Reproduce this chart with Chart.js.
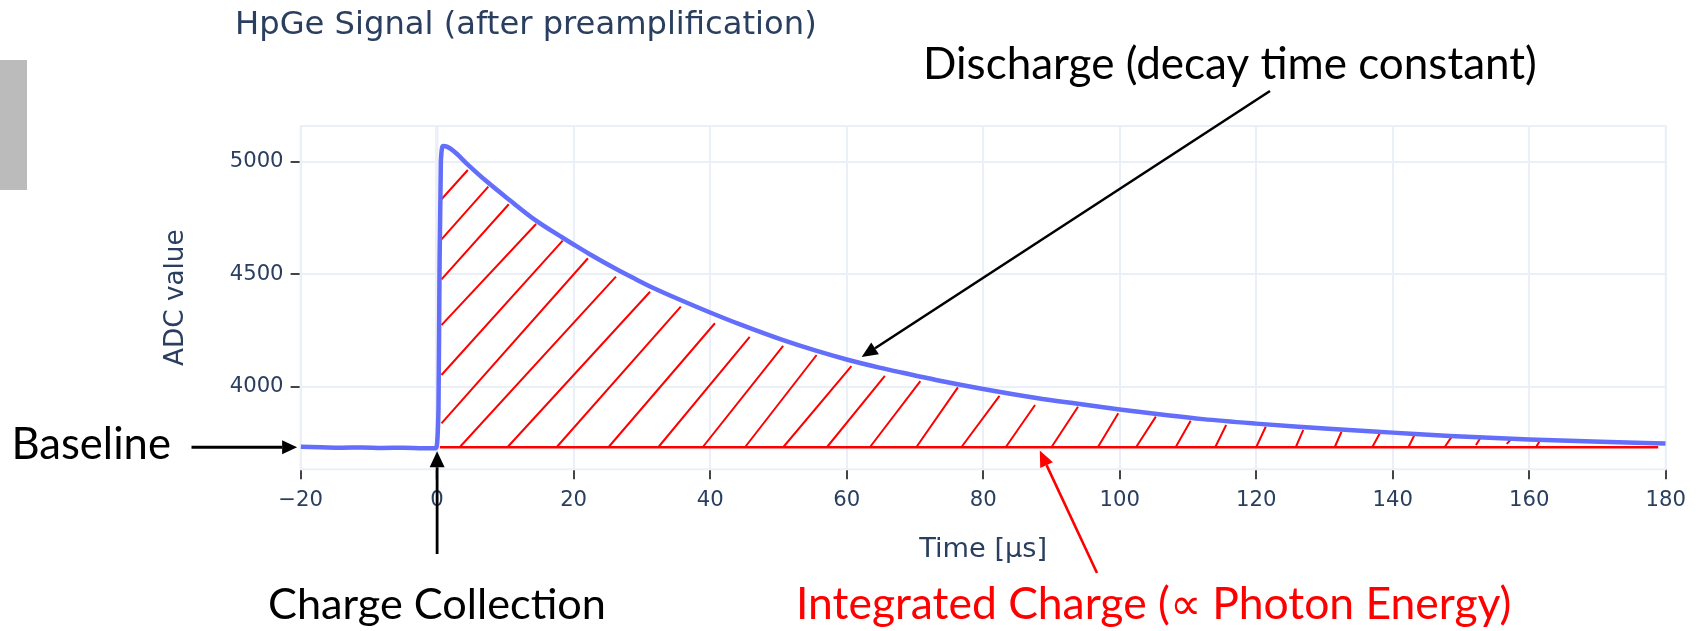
<!DOCTYPE html>
<html>
<head>
<meta charset="utf-8">
<script src="https://cdn.jsdelivr.net/npm/chart.js@4.4.1/dist/chart.umd.min.js"></script>
<style>
  html, body { margin: 0; padding: 0; background: #ffffff; }
  #wrap { width: 1704px; height: 631px; position: relative; }
</style>
</head>
<body>
<div id="wrap"><canvas id="c" width="1704" height="631"></canvas></div>
<script>
// ---------------- data ----------------
const timeUs = [-20, -17, -14, -11, -8, -5, -2, -0.2, 0.2, 0.35, 0.55, 0.9, 1.5, 2.5, 4.3, 7.2, 10.6, 14.5, 18.4, 20, 22.3, 26.3, 28.7, 31.6, 36, 40, 44.3, 50.6, 55.5, 60, 64.8, 68.2, 73.1, 80, 87.8, 93.6, 100, 107.3, 112.2, 120, 126.2, 130.6, 140, 148.4, 160, 170.5, 180];
const adcValue = [3733, 3731, 3729, 3730, 3728, 3729, 3727, 3727, 3900, 4500, 5000, 5070, 5066, 5045, 4993, 4914, 4830, 4738, 4662, 4632, 4590, 4522, 4484, 4440, 4381, 4330, 4278, 4208, 4160, 4121, 4085, 4062, 4030, 3990, 3950, 3925, 3899, 3872, 3856, 3836, 3822, 3813, 3796, 3781, 3765, 3755, 3748];

const xTickValues = [-20, 0, 20, 40, 60, 80, 100, 120, 140, 160, 180];
const yTickValues = [4000, 4500, 5000];
const xRange = [-20, 180];
const yRange = [3633, 5158.7];

// integrated-charge region: red baseline and hatch strokes
const baselineLevel = 3731;
const baselineSpan = [0.4, 178.9];
const hatchBottomT = [0.64, 0.64, 0.64, 0.64, 0.64, 0.64, 3.3, 10.3, 17.5, 25.1, 32.4, 38.9, 45.1, 50.7, 57.1, 63.4, 70.2, 76.8, 83.3, 90.0, 96.8, 102.4, 108.2, 114.0, 120.0, 125.8, 131.5, 137.0, 142.3, 147.6, 152.2, 156.7, 161.0];
const hatchBottomV = [4833, 4655, 4477, 4274, 4052, 3837, 3731, 3731, 3731, 3731, 3731, 3731, 3731, 3731, 3731, 3731, 3731, 3731, 3731, 3731, 3731, 3731, 3731, 3731, 3731, 3731, 3731, 3731, 3731, 3731, 3741, 3746, 3731];
const hatchTopT = [4.5, 7.5, 10.5, 14.5, 18.4, 22.1, 26.2, 31.2, 35.7, 40.7, 45.8, 50.7, 55.6, 60.7, 65.6, 70.8, 76.3, 82.4, 87.6, 93.9, 99.8, 105.3, 110.4, 115.6, 121.4, 126.9, 132.5, 138.1, 143.2, 148.6, 152.8, 157.4, 161.6];
const hatchTopV = [4963, 4889, 4811, 4723, 4649, 4571, 4489, 4422, 4356, 4282, 4222, 4182, 4141, 4092, 4048, 4025, 3997, 3959, 3919, 3911, 3882, 3867, 3849, 3830, 3822, 3808, 3800, 3792, 3786, 3776, 3770, 3767, 3762];

// text
const chartTitle = 'HpGe Signal (after preamplification)';
const yAxisTitle = 'ADC value';
const xAxisTitle = 'Time [µs]';
const noteBaseline = 'Baseline';
const noteCharge = 'Charge Collection';
const noteDischarge = 'Discharge (decay time constant)';
const noteIntegrated = 'Integrated Charge (\u221D Photon Energy)';

// ---------------- build datasets ----------------
const signalPoints = timeUs.map((t, i) => ({ x: t, y: adcValue[i] }));
const hatchPoints = [];
hatchBottomT.forEach((t, i) => {
  hatchPoints.push({ x: t, y: hatchBottomV[i] });
  hatchPoints.push({ x: hatchTopT[i], y: hatchTopV[i] });
  hatchPoints.push({ x: hatchTopT[i], y: null });
});
const baselinePoints = [{ x: baselineSpan[0], y: baselineLevel }, { x: baselineSpan[1], y: baselineLevel }];

const PLOTLY_FONT = '"DejaVu Sans", Verdana, sans-serif';
const NOTE_FONT = 'Lato, "Open Sans", sans-serif';
const TEXT_COLOR = '#2a3f5f';
const GRID_COLOR = '#ebf0f8';

function fitSize(ctx, text, family, targetW) {
  ctx.font = '40px ' + family;
  const w = ctx.measureText(text).width;
  return 40 * targetW / w;
}
function minus(v) { return (v < 0 ? '\u2212' : '') + Math.abs(v); }

function arrow(ctx, x0, y0, x1, y1, color, lw, headLen, headW) {
  const a = Math.atan2(y1 - y0, x1 - x0);
  const bx = x1 - headLen * Math.cos(a), by = y1 - headLen * Math.sin(a);
  ctx.save();
  ctx.strokeStyle = color; ctx.fillStyle = color; ctx.lineWidth = lw;
  ctx.beginPath(); ctx.moveTo(x0, y0); ctx.lineTo(bx, by); ctx.stroke();
  ctx.beginPath();
  ctx.moveTo(x1, y1);
  ctx.lineTo(bx + headW / 2 * Math.sin(a), by - headW / 2 * Math.cos(a));
  ctx.lineTo(bx - headW / 2 * Math.sin(a), by + headW / 2 * Math.cos(a));
  ctx.closePath(); ctx.fill();
  ctx.restore();
}

const decorPlugin = {
  id: 'decor',
  beforeDraw(chart) {
    const ctx = chart.ctx;
    ctx.save();
    ctx.fillStyle = '#ffffff';
    ctx.fillRect(0, 0, chart.width, chart.height);
    ctx.fillStyle = '#bbbbbb';
    ctx.fillRect(0, 60, 27, 130);
    ctx.restore();
  },
  beforeDatasetsDraw(chart) {
    const ctx = chart.ctx, a = chart.chartArea;
    ctx.save();
    ctx.strokeStyle = GRID_COLOR; ctx.lineWidth = 2;
    ctx.strokeRect(a.left, a.top, a.right - a.left, a.bottom - a.top);
    ctx.restore();
  },
  afterDraw(chart) {
    const ctx = chart.ctx, a = chart.chartArea;
    const xs = chart.scales.x, ys = chart.scales.y;
    ctx.save();
    // chart title
    let s = fitSize(ctx, chartTitle, PLOTLY_FONT, 582);
    ctx.font = s + 'px ' + PLOTLY_FONT;
    ctx.fillStyle = TEXT_COLOR; ctx.textAlign = 'left'; ctx.textBaseline = 'alphabetic';
    ctx.fillText(chartTitle, 235, 33.5);
    // axis titles
    s = fitSize(ctx, xAxisTitle, PLOTLY_FONT, 128);
    ctx.font = s + 'px ' + PLOTLY_FONT;
    ctx.textAlign = 'center';
    ctx.fillText(xAxisTitle, (a.left + a.right) / 2, 557);
    s = fitSize(ctx, yAxisTitle, PLOTLY_FONT, 136.7);
    ctx.font = s + 'px ' + PLOTLY_FONT;
    ctx.save();
    ctx.translate(182.7, (a.top + a.bottom) / 2);
    ctx.rotate(-Math.PI / 2);
    ctx.fillText(yAxisTitle, 0, 0);
    ctx.restore();

    // annotation texts
    ctx.textAlign = 'left';
    const notes = [
      [noteBaseline, 11.5, 159.5, 459, '#000000'],
      [noteCharge, 268, 338, 619, '#000000'],
      [noteDischarge, 923, 614, 79, '#000000'],
      [noteIntegrated, 796, 717, 619, '#ff0000']
    ];
    notes.forEach(([txt, x, w, y, col]) => {
      const fs = fitSize(ctx, txt, NOTE_FONT, w);
      ctx.font = fs + 'px ' + NOTE_FONT;
      ctx.fillStyle = col;
      ctx.fillText(txt, x, y);
    });

    // arrows (tips anchored to data positions)
    const yBase = ys.getPixelForValue(baselineLevel);
    arrow(ctx, 191.5, yBase, xs.getPixelForValue(-20) - 3.5, yBase, '#000', 2.8, 15, 14);
    arrow(ctx, xs.getPixelForValue(0), 554, xs.getPixelForValue(0), yBase + 4, '#000', 2.8, 16, 15);
    arrow(ctx, 1270, 91, xs.getPixelForValue(62.2), ys.getPixelForValue(4132), '#000', 2.6, 16, 14);
    arrow(ctx, 1097, 573, xs.getPixelForValue(88.3), ys.getPixelForValue(3716), '#ff0000', 2.6, 16, 14);
    ctx.restore();
  }
};

const gridCommon = {
  color: GRID_COLOR,
  lineWidth: 2,
  tickColor: '#444444',
  tickWidth: 2,
  tickLength: 10,
  drawTicks: true
};

new Chart(document.getElementById('c'), {
  type: 'scatter',
  data: {
    datasets: [
      {
        label: 'signal',
        data: signalPoints,
        showLine: true,
        borderColor: '#636efa',
        borderWidth: 4.5,
        pointRadius: 0,
        cubicInterpolationMode: 'monotone',
        fill: false
      },
      {
        label: 'baseline',
        data: baselinePoints,
        showLine: true,
        borderColor: '#ff0000',
        borderWidth: 2.5,
        pointRadius: 0
      },
      {
        label: 'hatch',
        data: hatchPoints,
        showLine: true,
        spanGaps: false,
        borderColor: '#ff0000',
        borderWidth: 2,
        pointRadius: 0,
        tension: 0
      }
    ]
  },
  options: {
    responsive: false,
    animation: false,
    devicePixelRatio: 1,
    layout: { padding: { left: 0, right: 38.3, top: 126, bottom: 0 } },
    plugins: { legend: { display: false }, tooltip: { enabled: false }, title: { display: false } },
    scales: {
      x: {
        type: 'linear',
        min: xRange[0], max: xRange[1],
        afterBuildTicks: (sc) => { sc.ticks = xTickValues.map(v => ({ value: v })); },
        afterFit: (sc) => { sc.height = 631 - 469.3; },
        ticks: {
          autoSkip: false, maxRotation: 0, padding: 8,
          color: TEXT_COLOR,
          font: { family: PLOTLY_FONT, size: 21.2 },
          callback: (v) => minus(v)
        },
        grid: Object.assign({}, gridCommon, {
          lineWidth: (c) => (c.tick && c.tick.value === 0 ? 3.5 : 2)
        }),
        border: { display: false }
      },
      y: {
        type: 'linear',
        min: yRange[0], max: yRange[1],
        afterBuildTicks: (sc) => { sc.ticks = yTickValues.map(v => ({ value: v })); },
        afterFit: (sc) => { sc.width = 300.6; },
        ticks: {
          padding: 7,
          color: TEXT_COLOR,
          font: { family: PLOTLY_FONT, size: 21.2 },
          callback: (v) => String(v)
        },
        grid: gridCommon,
        border: { display: false }
      }
    }
  },
  plugins: [decorPlugin]
});
</script>
</body>
</html>
